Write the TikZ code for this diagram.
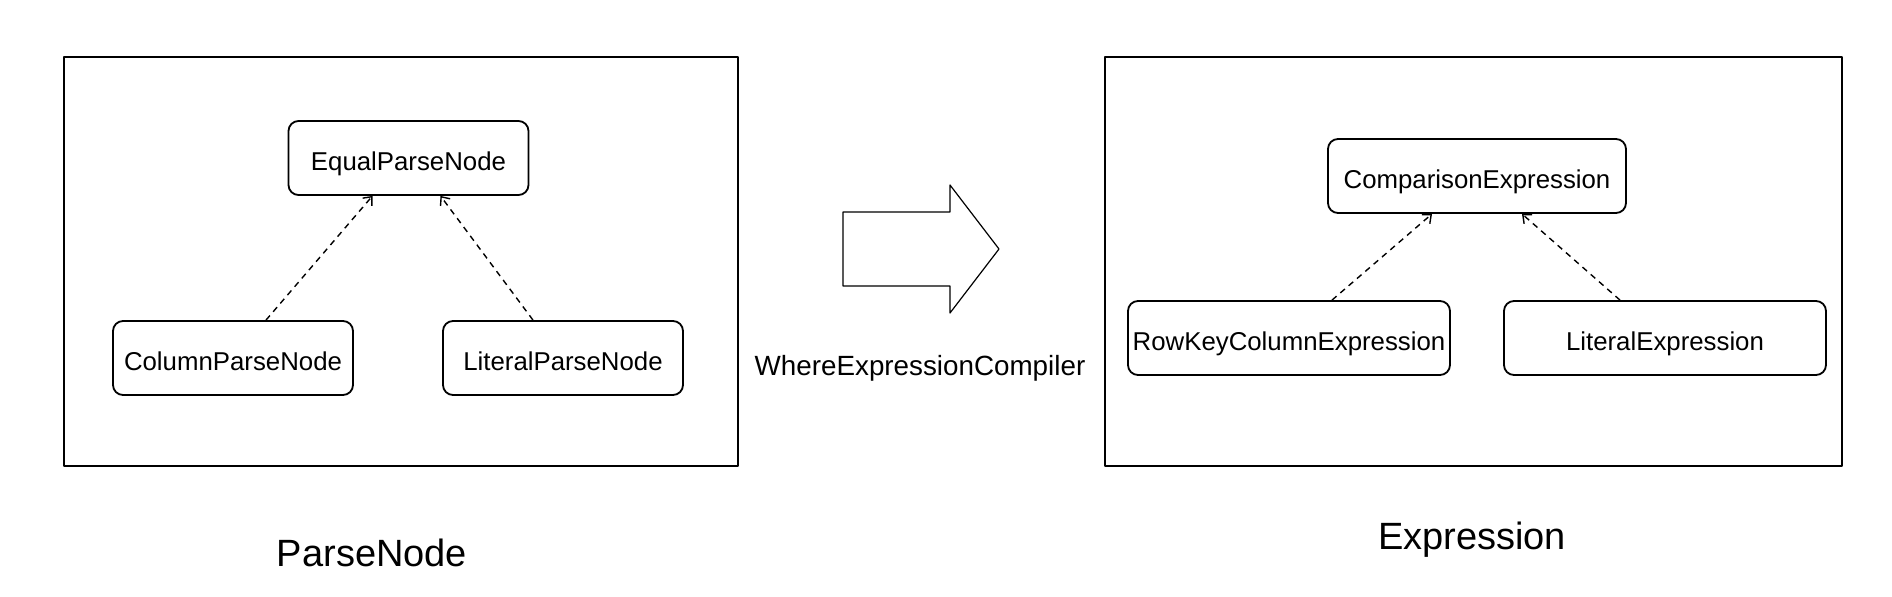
\documentclass[tikz,border=0pt]{standalone}
\usepackage{fontspec}
\setmainfont{Liberation Sans}
\usetikzlibrary{arrows.meta}

\begin{document}
\begin{tikzpicture}[x=0.5pt,y=-0.5pt,>={Straight Barb[length=3.5pt,width=6pt]},line join=round]
		\tikzstyle{frame}=[draw=black, line width=1.1pt]
		\tikzstyle{class}=[rectangle, rounded corners=5pt, draw=black, line width=0.9pt, minimum height=37pt, inner sep=2pt, text height=12.3pt, text depth=0pt, font=\fontsize{12.9}{15}\selectfont]
		\tikzstyle{impl}=[->, line width=0.7pt, dash pattern=on 3pt off 2.5pt]
		\tikzstyle{title}=[font=\fontsize{19}{23}\selectfont]

		\useasboundingbox (0,0) rectangle (1892,596);

		% parse tree
		\draw [frame] (64,57) rectangle (738,466);
		\node [class,minimum width=120pt] (equal) at (408.5,158) {EqualParseNode};
		\node [class,minimum width=120pt] (column) at (233,358) {ColumnParseNode};
		\node [class,minimum width=120pt] (literal) at (563,358) {LiteralParseNode};
		\draw [impl] ([xshift=16.5pt]column.north) -- ([xshift=-18pt]equal.south);
		\draw [impl] ([xshift=-15pt]literal.north) -- ([xshift=16pt]equal.south);
		\node [title] (parse) at (372,553) {ParseNode};

		% compiler
		\draw [line width=0.6pt] (843,212) -- (950,212) -- (950,185) -- (999,249)
			-- (950,313) -- (950,286) -- (843,286) -- cycle;
		\node [font=\fontsize{13.9}{16}\selectfont] (compiler) at (920,368) {WhereExpressionCompiler};

		% expression tree
		\draw [frame] (1105,57) rectangle (1842,466);
		\node [class,minimum width=149pt] (comparison) at (1477,176) {ComparisonExpression};
		\node [class,minimum width=161pt] (rowkey) at (1289,338) {RowKeyColumnExpression};
		\node [class,minimum width=161pt] (litexpr) at (1665,338) {LiteralExpression};
		\draw [impl] ([xshift=21.5pt]rowkey.north) -- ([xshift=-22.5pt]comparison.south);
		\draw [impl] ([xshift=-22.5pt]litexpr.north) -- ([xshift=22.5pt]comparison.south);
		\node [title] (expression) at (1472,540) {Expression};
	\end{tikzpicture}
\end{document}
